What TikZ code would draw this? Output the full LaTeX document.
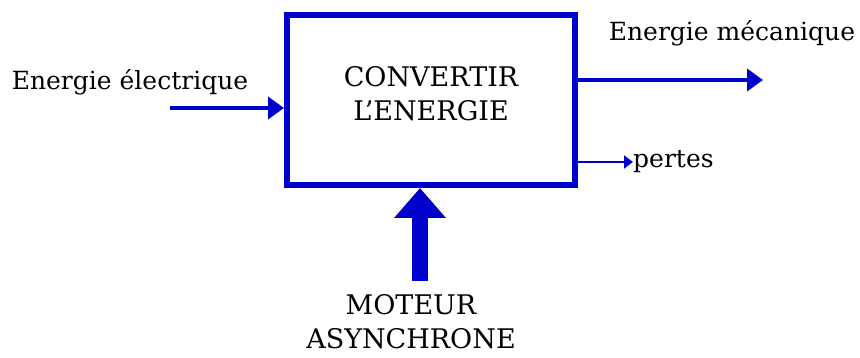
\documentclass[tikz,border=0pt]{standalone}
\usepackage{fontspec}
\setmainfont{DejaVu Serif}
\usetikzlibrary{arrows.meta, positioning}
\definecolor{flowblue}{RGB}{0,0,204}
\tikzset{
  convbox/.style={draw=flowblue, line width=6pt, minimum width=288pt, minimum height=170pt, inner sep=0pt},
  flow/.style={draw=flowblue, line width=4pt, -{Triangle[length=16pt, width=22pt]}},
  thinflow/.style={draw=flowblue, line width=2pt, -{Triangle[length=9pt, width=13pt]}},
  bigflow/.style={draw=flowblue, line width=16pt, -{Triangle[length=30pt, width=50pt]}},
  lbl/.style={inner sep=0pt, align=center},
  caps/.style={lbl, font=\fontsize{27}{34}\selectfont}
}
\begin{document}
\begin{tikzpicture}[x=1pt, y=-1pt, font=\fontsize{25}{35}\selectfont]
  \useasboundingbox[fill=white] (0,0) rectangle (860,358);

  % Converter block
  \node[convbox] (conv) at (431,100) {};
  \node[caps] (convtxt) at ([yshift=6pt]conv.center) {CONVERTIR\\L’ENERGIE};

  % Input: electrical energy
  \node[lbl] (elec) at (130,82) {Energie électrique};
  \coordinate (elecin) at (170,108);
  \draw[flow] (elecin) -- (elecin -| conv.west);

  % Outputs: mechanical energy and losses
  \node[lbl] (meca) at (732,33) {Energie mécanique};
  \coordinate (mecaout) at (763,80);
  \draw[flow] (mecaout -| conv.east) -- (mecaout);

  \coordinate (pertesout) at (633,162);
  \node[lbl, anchor=west] (pertes) at (pertesout) {pertes};
  \draw[thinflow] (pertesout -| conv.east) -- (pertes.west |- pertesout);

  % Support: asynchronous motor
  \node[caps] (moteur) at (411,322) {MOTEUR\\ASYNCHRONE};
  \coordinate (moteurin) at (420,281);
  \draw[bigflow] (moteurin) -- (moteurin |- conv.south);
\end{tikzpicture}
\end{document}
